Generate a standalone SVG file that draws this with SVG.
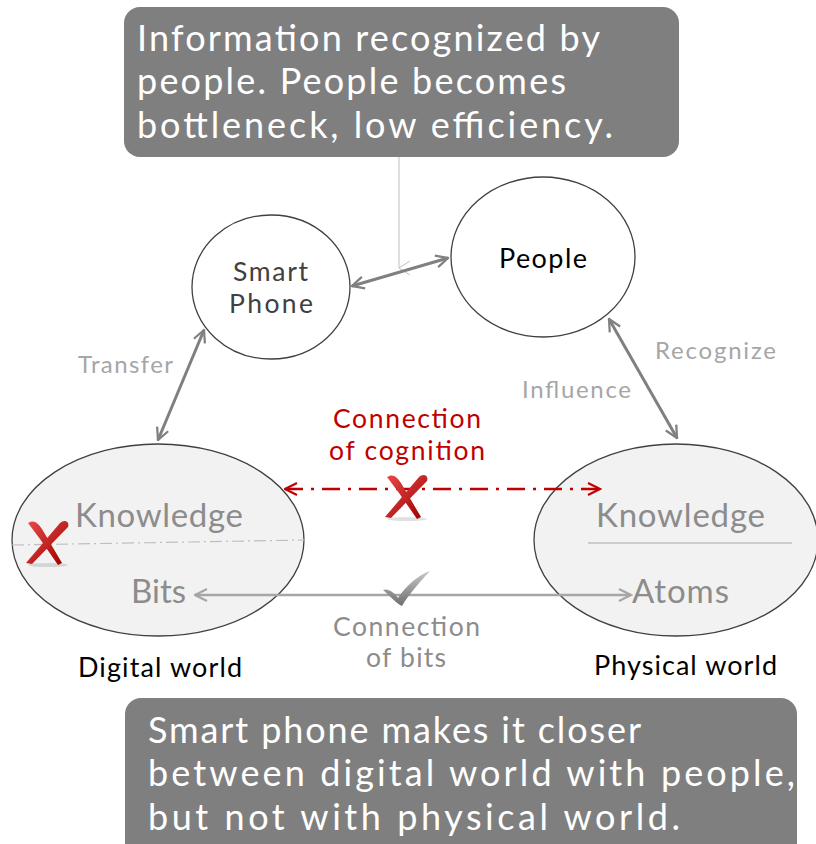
<svg xmlns="http://www.w3.org/2000/svg" width="816" height="844" viewBox="0 0 816 844">
<defs>
<style>
text{font-family:Lato,"Open Sans","DejaVu Sans",sans-serif}
.box{fill:#7f7f7f}
.boxt{fill:#fff;font-size:36px}
.world{fill:#f2f2f2;stroke:#404040;stroke-width:1.3}
.node{fill:#fff;stroke:#404040;stroke-width:1.3}
.inner{fill:#8c8c8c;font-size:33px}
.lbl{fill:#a6a6a6;font-size:24px}
.conn{stroke:#808080;stroke-width:3;fill:none}
.red{fill:#c00000;font-size:26.5px}
</style>
<marker id="ag" viewBox="0 0 10 10" refX="9" refY="5" markerWidth="5" markerHeight="5" orient="auto-start-reverse" markerUnits="strokeWidth">
<path d="M1,1 L9,5 L1,9" fill="none" stroke="#808080" stroke-width="1.5"/>
</marker>
<marker id="agl" viewBox="0 0 10 10" refX="9" refY="5" markerWidth="6" markerHeight="6" orient="auto-start-reverse" markerUnits="strokeWidth">
<path d="M1,1 L9,5 L1,9" fill="none" stroke="#a6a6a6" stroke-width="1.4"/>
</marker>
<marker id="ar" viewBox="0 0 10 10" refX="9" refY="5" markerWidth="6" markerHeight="6" orient="auto-start-reverse" markerUnits="strokeWidth">
<path d="M1,1 L9,5 L1,9" fill="none" stroke="#c00000" stroke-width="1.4"/>
</marker>
<marker id="at" viewBox="0 0 20 20" refX="10" refY="19" markerWidth="20" markerHeight="20" orient="auto" markerUnits="userSpaceOnUse">
<path d="M3,8 L10,19 L17,8" fill="none" stroke="#bfbfbf" stroke-width="1"/>
</marker>
<linearGradient id="rg" x1="0" y1="0" x2="1" y2="1">
<stop offset="0" stop-color="#e84a4a"/>
<stop offset="1" stop-color="#a00000"/>
</linearGradient>
<linearGradient id="cg" x1="0" y1="0" x2="0" y2="1">
<stop offset="0" stop-color="#c8c8c8"/>
<stop offset="1" stop-color="#6e6e6e"/>
</linearGradient>
<g id="xmark">
<ellipse cx="0" cy="22" rx="20" ry="2" fill="#000" opacity="0.12"/>
<path d="M-20,-20 C-14,-24 -10,-20 -6,-14 L14,20 L10,22 L-8,-4 Z" fill="url(#rg)"/>
<path d="M20,-16 C22,-22 16,-24 12,-20 L-22,20 L-16,21 Z" fill="url(#rg)"/>
</g>
</defs>
<rect width="816" height="844" fill="#fff"/>

<g id="connectors">
<line x1="399" y1="157" x2="399" y2="268" stroke="#bfbfbf" stroke-width="1" marker-end="url(#at)"/>
<line class="conn" x1="352" y1="286" x2="448" y2="258" marker-start="url(#ag)" marker-end="url(#ag)"/>
<line class="conn" x1="204" y1="330" x2="158" y2="440" marker-start="url(#ag)" marker-end="url(#ag)"/>
<line class="conn" x1="609" y1="319" x2="677" y2="438" marker-start="url(#ag)" marker-end="url(#ag)"/>
</g>

<g id="top-note">
<rect class="box" x="124" y="7" width="555" height="150" rx="16"/>
<text class="boxt" x="137" y="51" textLength="463">Information recognized by</text>
<text class="boxt" x="137" y="94" textLength="429">people. People becomes</text>
<text class="boxt" x="137" y="138" textLength="476">bottleneck, low efficiency.</text>
</g>

<g id="bottom-note">
<rect class="box" x="125" y="698" width="672" height="170" rx="16"/>
<text class="boxt" x="148" y="743" textLength="493">Smart phone makes it closer</text>
<text class="boxt" x="148" y="786" textLength="647">between digital world with people,</text>
<text class="boxt" x="148" y="830" textLength="532">but not with physical world.</text>
</g>

<g id="smart-phone">
<ellipse class="node" cx="271" cy="287" rx="79" ry="72"/>
<text x="233" y="281" font-size="26.5" fill="#404040" textLength="75">Smart</text>
<text x="229" y="313" font-size="26.5" fill="#404040" textLength="84">Phone</text>
</g>

<g id="people">
<ellipse class="node" cx="543" cy="257" rx="92" ry="80"/>
<text x="499" y="268" font-size="27" fill="#000" textLength="88">People</text>
</g>

<g id="labels">
<text class="lbl" x="78" y="373" textLength="95">Transfer</text>
<text class="lbl" x="655" y="359" textLength="121">Recognize</text>
<text class="lbl" x="522" y="398" textLength="109">Influence</text>
</g>

<g id="digital-world">
<ellipse class="world" cx="158" cy="540" rx="146" ry="96"/>
<line x1="12" y1="545" x2="305" y2="540" stroke="#bfbfbf" stroke-width="1.2" stroke-dasharray="12,4,2,4"/>
<text class="inner" x="75" y="527" textLength="168">Knowledge</text>
<text class="inner" x="131" y="603" textLength="55">Bits</text>
<text x="78" y="677" font-size="27" fill="#000" textLength="164">Digital world</text>
</g>

<g id="physical-world">
<ellipse class="world" cx="676" cy="540" rx="142" ry="96"/>
<line x1="588" y1="543" x2="792" y2="543" stroke="#bfbfbf" stroke-width="1.5"/>
<text class="inner" x="596" y="527" textLength="169">Knowledge</text>
<text class="inner" x="632" y="603" textLength="97">Atoms</text>
<text x="594" y="675" font-size="27" fill="#000" textLength="183">Physical world</text>
</g>

<g id="bits-connection">
<line x1="195" y1="595" x2="631" y2="595" stroke="#a6a6a6" stroke-width="2.5" marker-start="url(#agl)" marker-end="url(#agl)"/>
<path d="M383,590 C388,588 394,592 398,598 C406,586 418,575 430,571 C422,580 410,592 402,606 C397,604 390,596 383,590 Z" fill="url(#cg)"/>
<text x="333" y="636" font-size="26.5" fill="#8c8c8c" textLength="147">Connection</text>
<text x="366" y="667" font-size="26.5" fill="#8c8c8c" textLength="80">of bits</text>
</g>

<g id="cognition-connection">
<line x1="285" y1="489" x2="600" y2="489" stroke="#c00000" stroke-width="2.5" stroke-dasharray="18,8,3,8" marker-start="url(#ar)" marker-end="url(#ar)"/>
<text class="red" x="333" y="428" textLength="148">Connection</text>
<text class="red" x="329" y="460" textLength="156">of cognition</text>
<use href="#xmark" x="407" y="497"/>
<use href="#xmark" x="48" y="543"/>
</g>
</svg>
